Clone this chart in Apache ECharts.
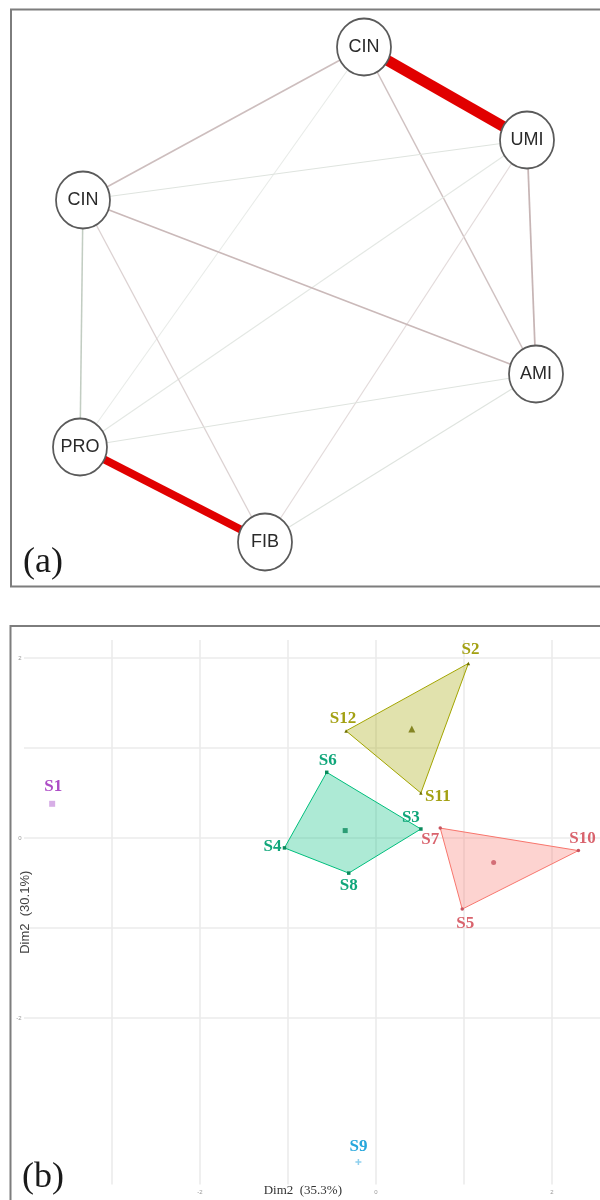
<!DOCTYPE html>
<html>
<head>
<meta charset="utf-8">
<script src="https://cdn.jsdelivr.net/npm/echarts@6/dist/echarts.min.js"></script>
<style>
  html, body { margin: 0; padding: 0; background: #fff; }
  #chart { width: 600px; height: 1200px; }
</style>
</head>
<body>
<div id="chart"></div>
<script>
// ---------- (a) correlation network ----------
const nodeIds = ['CIN_top', 'UMI', 'AMI', 'FIB', 'PRO', 'CIN_left'];
const nodeLabels = ['CIN', 'UMI', 'AMI', 'FIB', 'PRO', 'CIN'];
// layout coordinates of the nodes (layout space 0..600, y pointing down)
const nodeX = [364, 527, 536, 265, 80, 83];
const nodeY = [47, 140, 374, 542, 447, 200];
// edges: [source, target, correlation]
const edges = [
  ['CIN_top', 'UMI', -0.90],
  ['PRO', 'FIB', -0.72],
  ['CIN_top', 'CIN_left', -0.14],
  ['CIN_top', 'AMI', -0.13],
  ['CIN_top', 'PRO', 0.04],
  ['UMI', 'CIN_left', 0.06],
  ['UMI', 'AMI', -0.16],
  ['UMI', 'PRO', 0.05],
  ['UMI', 'FIB', -0.07],
  ['CIN_left', 'AMI', -0.15],
  ['CIN_left', 'PRO', 0.13],
  ['CIN_left', 'FIB', -0.09],
  ['PRO', 'AMI', 0.06],
  ['FIB', 'AMI', 0.06]
];

// ---------- (b) cluster plot on the first two dimensions ----------
const samples = ['S1', 'S2', 'S3', 'S4', 'S5', 'S6', 'S7', 'S8', 'S9', 'S10', 'S11', 'S12'];
const dim1 = [-3.68, 1.05, 0.51, -1.04, 0.98, -0.56, 0.73, -0.31, -0.20, 2.30, 0.51, -0.34];
const dim2 = [0.38, 1.94, 0.10, -0.11, -0.79, 0.73, 0.11, -0.39, -3.60, -0.14, 0.50, 1.19];
const cluster = [5, 2, 3, 3, 1, 3, 1, 3, 4, 1, 2, 2];
const clusterIds = [1, 2, 3, 4, 5];
const xTickLabels = [-2, 0, 2];
const yTickLabels = [-2, 0, 2];
const xGridValues = [-3, -2, -1, 0, 1, 2];
const yGridValues = [-2, -1, 0, 1, 2];

// ---------- styling ----------
const clusterColor = { 1: '#F8766D', 2: '#A3A500', 3: '#00BF7D', 4: '#00B0F6', 5: '#E76BF3' };
const clusterLabelColor = { 1: '#d9636d', 2: '#a3a012', 3: '#10a67a', 4: '#27a7dc', 5: '#ad4cc6' };
const clusterPointColor = { 1: '#c85560', 2: '#6e6e00', 3: '#0a8a5c', 4: '#8fd0ee', 5: '#d7aee6' };
const plusPath = 'path://M-1,-4H1V-1H4V1H1V4H-1V1H-4V-1H-1Z';
const clusterSymbol = { 1: 'circle', 2: 'triangle', 3: 'rect', 4: plusPath, 5: 'rect' };
const labelNudge = {
  S1: [1, -17], S2: [2, -14], S3: [-10, -11], S4: [-12, -1], S5: [3, 15], S6: [1, -12],
  S7: [-10, 12], S8: [0, 13], S9: [0, -15], S10: [4, -12], S11: [17, 4], S12: [-3, -12]
};

function hexToRgb(h) {
  const n = parseInt(h.slice(1), 16);
  return [(n >> 16) & 255, (n >> 8) & 255, n & 255];
}
function rgba(h, a) {
  const [r, g, b] = hexToRgb(h);
  return 'rgba(' + r + ',' + g + ',' + b + ',' + a + ')';
}

// edge width and colour follow the strength and sign of the correlation
function edgeWidth(w) {
  return 1 + 11.5 * Math.pow(Math.abs(w), 1.5);
}
function edgeColor(w) {
  const a = Math.abs(w);
  if (a >= 0.5) return w < 0 ? '#e10000' : '#009a00';
  const L = 250 - 330 * a;
  const t = a * 0.5;
  const hue = w < 0 ? [221, 0, 0] : [0, 170, 0];
  const c = [0, 1, 2].map(k => Math.round(L * (1 - t) + hue[k] * t));
  return 'rgb(' + c.join(',') + ')';
}

// convex hull (monotone chain) of a set of [x, y] points
function convexHull(pts) {
  const p = pts.slice().sort((a, b) => a[0] - b[0] || a[1] - b[1]);
  if (p.length < 3) return p;
  const cross = (o, a, b) => (a[0] - o[0]) * (b[1] - o[1]) - (a[1] - o[1]) * (b[0] - o[0]);
  const lower = [], upper = [];
  for (const q of p) {
    while (lower.length >= 2 && cross(lower[lower.length - 2], lower[lower.length - 1], q) <= 0) lower.pop();
    lower.push(q);
  }
  for (let i = p.length - 1; i >= 0; i--) {
    const q = p[i];
    while (upper.length >= 2 && cross(upper[upper.length - 2], upper[upper.length - 1], q) <= 0) upper.pop();
    upper.push(q);
  }
  upper.pop(); lower.pop();
  return lower.concat(upper);
}

function membersOf(c) {
  return samples.map((_, i) => i).filter(i => cluster[i] === c);
}
function centroidOf(c) {
  const m = membersOf(c);
  const mx = m.reduce((s, i) => s + dim1[i], 0) / m.length;
  const my = m.reduce((s, i) => s + dim2[i], 0) / m.length;
  return [mx, my];
}

const chart = echarts.init(document.getElementById('chart'), null, { renderer: 'canvas' });

const series = [];

// network
series.push({
  type: 'graph',
  coordinateSystem: 'cartesian2d',
  xAxisIndex: 0,
  yAxisIndex: 0,
  silent: true,
  symbol: 'circle',
  symbolSize: [54, 57],
  data: nodeIds.map((id, i) => ({
    name: id,
    value: [nodeX[i], nodeY[i]],
    label: { formatter: nodeLabels[i] }
  })),
  links: edges.map(([s, t, w]) => ({
    source: s,
    target: t,
    lineStyle: { width: edgeWidth(w), color: edgeColor(w) }
  })),
  itemStyle: { color: '#ffffff', borderColor: '#5a5a5a', borderWidth: 1.8 },
  lineStyle: { opacity: 1, curveness: 0 },
  label: {
    show: true,
    position: 'inside',
    color: '#2a2a2a',
    fontSize: 18,
    fontFamily: 'Liberation Sans'
  },
  emphasis: { disabled: true }
});

// grid lines of the cluster plot
series.push({
  type: 'custom',
  xAxisIndex: 1,
  yAxisIndex: 1,
  silent: true,
  z: 0,
  data: yGridValues.map(v => [0, v]),
  renderItem(params, api) {
    const cs = params.coordSys;
    const y = api.coord([0, api.value(1)])[1];
    return {
      type: 'line',
      shape: { x1: cs.x, y1: y, x2: cs.x + cs.width, y2: y },
      style: { stroke: '#ebebeb', lineWidth: 1.6 }
    };
  }
});
series.push({
  type: 'custom',
  xAxisIndex: 1,
  yAxisIndex: 1,
  silent: true,
  z: 0,
  data: xGridValues.map(v => [v, 0]),
  renderItem(params, api) {
    const cs = params.coordSys;
    const x = api.coord([api.value(0), 0])[0];
    return {
      type: 'line',
      shape: { x1: x, y1: cs.y, x2: x, y2: cs.y + cs.height },
      style: { stroke: '#ebebeb', lineWidth: 1.6 }
    };
  }
});

// convex hulls of the clusters
series.push({
  type: 'custom',
  xAxisIndex: 1,
  yAxisIndex: 1,
  silent: true,
  z: 1,
  data: clusterIds.filter(c => membersOf(c).length >= 3).map(c => centroidOf(c).concat([c])),
  renderItem(params, api) {
    const c = api.value(2);
    const hull = convexHull(membersOf(c).map(i => [dim1[i], dim2[i]]));
    return {
      type: 'polygon',
      shape: { points: hull.map(p => api.coord(p)) },
      style: { fill: rgba(clusterColor[c], 0.32), stroke: clusterColor[c], lineWidth: 1 }
    };
  }
});

// sample points with their labels
clusterIds.forEach(c => {
  const single = membersOf(c).length === 1;
  series.push({
    type: 'scatter',
    xAxisIndex: 1,
    yAxisIndex: 1,
    silent: true,
    z: 3,
    symbol: clusterSymbol[c],
    symbolSize: single ? 6 : 3.5,
    itemStyle: { color: clusterPointColor[c], opacity: 1 },
    label: {
      show: true,
      position: 'inside',
      formatter: '{b}',
      color: clusterLabelColor[c],
      fontFamily: 'Liberation Serif',
      fontWeight: 'bold',
      fontSize: 17
    },
    data: membersOf(c).map(i => ({
      name: samples[i],
      value: [dim1[i], dim2[i]],
      label: { offset: labelNudge[samples[i]] }
    }))
  });
});

// cluster centres
clusterIds.filter(c => membersOf(c).length > 1).forEach(c => {
  series.push({
    type: 'scatter',
    xAxisIndex: 1,
    yAxisIndex: 1,
    silent: true,
    z: 4,
    symbol: clusterSymbol[c],
    symbolSize: c === 2 ? 7 : 5,
    itemStyle: { color: clusterPointColor[c] },
    data: [centroidOf(c)]
  });
});

const option = {
  animation: false,
  backgroundColor: '#ffffff',
  grid: [
    { left: 0, top: 0, width: 600, height: 600, outerBoundsMode: 'none', containLabel: false },
    { left: 24, top: 640, width: 589.6, height: 544.5, outerBoundsMode: 'none', containLabel: false }
  ],
  xAxis: [
    { gridIndex: 0, type: 'value', min: 0, max: 600, show: false },
    {
      gridIndex: 1,
      type: 'value',
      min: -4,
      max: 2.7,
      name: 'Dim2  (35.3%)',
      nameLocation: 'middle',
      nameGap: 0,
      nameMoveOverlap: false,
      nameTextStyle: {
        fontFamily: 'Liberation Serif',
        fontSize: 13,
        color: '#333',
        padding: [0, 32, 0, 0]
      },
      axisLine: { show: false },
      axisTick: { show: false },
      splitLine: { show: false },
      axisLabel: {
        margin: 5,
        fontSize: 6,
        color: '#999',
        formatter: v => (xTickLabels.includes(v) ? String(v) : '')
      }
    }
  ],
  yAxis: [
    { gridIndex: 0, type: 'value', min: 0, max: 600, inverse: true, show: false },
    {
      gridIndex: 1,
      type: 'value',
      min: -3.85,
      max: 2.2,
      name: 'Dim2  (30.1%)',
      nameLocation: 'middle',
      nameGap: -8,
      nameMoveOverlap: false,
      nameTextStyle: {
        fontFamily: 'Liberation Sans',
        fontSize: 13,
        color: '#444'
      },
      axisLine: { show: false },
      axisTick: { show: false },
      splitLine: { show: false },
      axisLabel: {
        margin: 2.5,
        fontSize: 6,
        color: '#999',
        formatter: v => (yTickLabels.includes(v) ? String(v) : '')
      }
    }
  ],
  graphic: [
    {
      type: 'rect',
      silent: true,
      z: 10,
      shape: { x: 11, y: 9.5, width: 620, height: 577 },
      style: { fill: 'none', stroke: '#7d7d7d', lineWidth: 2 }
    },
    {
      type: 'rect',
      silent: true,
      z: 10,
      shape: { x: 10.5, y: 626, width: 620, height: 620 },
      style: { fill: 'none', stroke: '#7d7d7d', lineWidth: 2 }
    },
    {
      type: 'text',
      silent: true,
      z: 10,
      x: 43,
      y: 563,
      style: {
        text: '(a)',
        font: '36px "Liberation Serif"',
        fill: '#1a1a1a',
        textAlign: 'center',
        textVerticalAlign: 'middle'
      }
    },
    {
      type: 'text',
      silent: true,
      z: 10,
      x: 43,
      y: 1178,
      style: {
        text: '(b)',
        font: '36px "Liberation Serif"',
        fill: '#1a1a1a',
        textAlign: 'center',
        textVerticalAlign: 'middle'
      }
    }
  ],
  series: series
};

chart.setOption(option);
</script>
</body>
</html>
